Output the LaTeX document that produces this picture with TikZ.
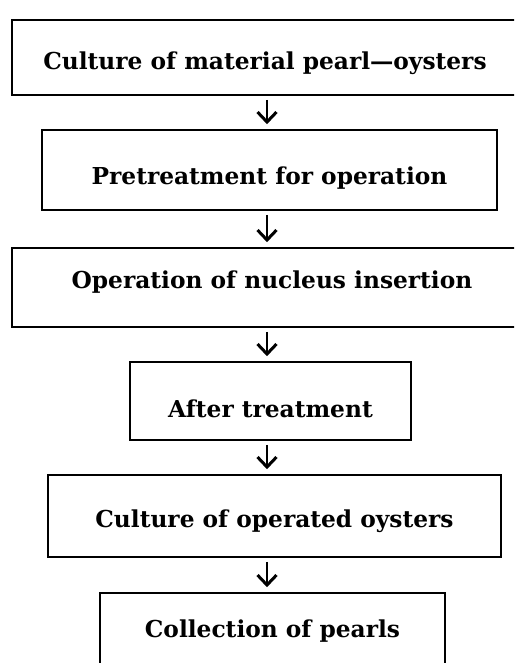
\documentclass[tikz,border=0pt]{standalone}
\usepackage{fontspec}
\setmainfont{DejaVu Serif}
\usetikzlibrary{arrows.meta,positioning,calc}

\begin{document}
\begin{tikzpicture}[x=1pt,y=-1pt,
	stagebox/.style={draw,line width=1.6pt,inner sep=0pt,font=\bfseries\fontsize{23.3}{26}\selectfont},
	textlift/.style={text height=#1,text depth=0pt},
	flow/.style={line width=2.6pt,-{Straight Barb[length=10pt,width=19pt,line width=3pt]},shorten <=4pt,shorten >=5pt}]
	\useasboundingbox (0,0) rectangle (514,663);
	\clip (0,0) rectangle (514,663);
	
	% stage boxes
	\node[stagebox,textlift=24pt,minimum width=506,minimum height=75] (material) at (265,57.5) {Culture of material pearl—oysters};
	\node[stagebox,textlift=29pt,minimum width=455,minimum height=80] (pretreat) at (269.5,170) {Pretreatment for operation};
	\node[stagebox,textlift=2pt,minimum width=520,minimum height=79] (insert) at (272,287.5) {Operation of nucleus insertion};
	\node[stagebox,textlift=33pt,minimum width=281,minimum height=78] (after) at (270.5,401) {After treatment};
	\node[stagebox,textlift=23pt,minimum width=453,minimum height=82] (operated) at (274.5,516) {Culture of operated oysters};
	\node[stagebox,textlift=12pt,minimum width=345,minimum height=77] (collect) at (272.5,631.5) {Collection of pearls};
	
	% arrows along one vertical axis
	\coordinate (axis) at (267,0);
	\draw[flow] (material.south -| axis) -- (pretreat.north -| axis);
	\draw[flow] (pretreat.south -| axis) -- (insert.north -| axis);
	\draw[flow] (insert.south -| axis) -- (after.north -| axis);
	\draw[flow] (after.south -| axis) -- (operated.north -| axis);
	\draw[flow] (operated.south -| axis) -- (collect.north -| axis);
\end{tikzpicture}
\end{document}
